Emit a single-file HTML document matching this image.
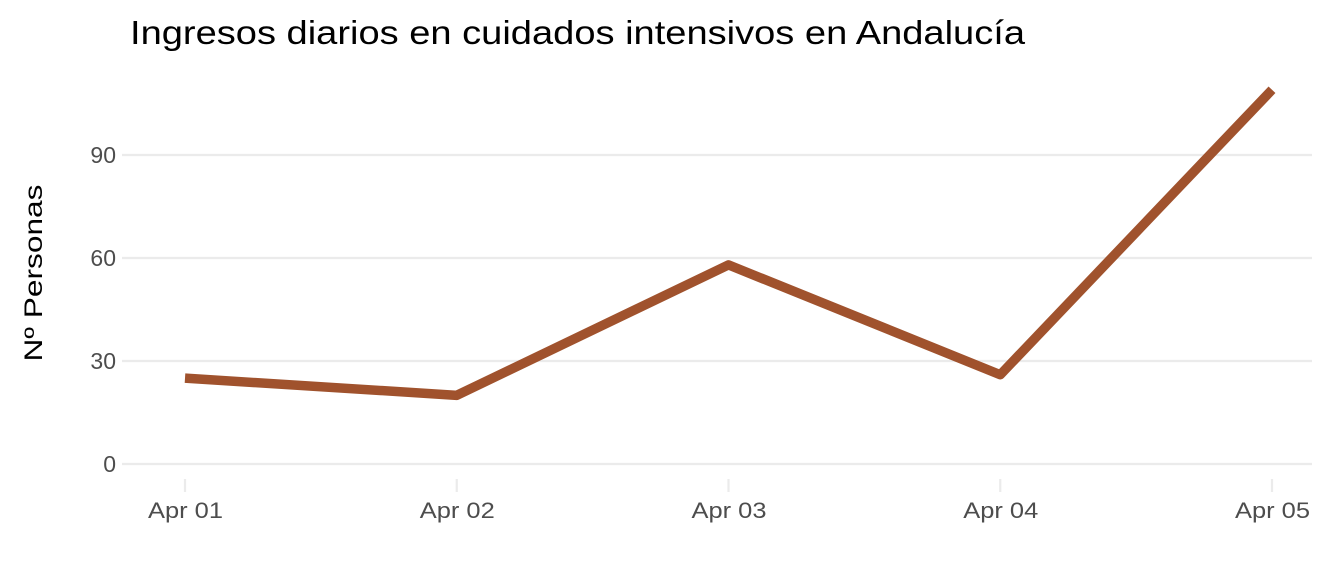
<!DOCTYPE html>
<html><head><meta charset="utf-8"><style>
body{margin:0;background:#fff;}
svg{display:block;font-family:"Liberation Sans",Arial,sans-serif;}
</style></head><body>
<svg id="chart" width="1344" height="576" viewBox="0 0 1344 576">
<text x="130" y="44" font-size="33" textLength="895" lengthAdjust="spacingAndGlyphs" fill="#000">Ingresos diarios en cuidados intensivos en Andalucía</text>
<text transform="translate(42,273) rotate(-90)" text-anchor="middle" font-size="25" textLength="177" lengthAdjust="spacingAndGlyphs" fill="#000">Nº Personas</text>
<g id="grid"></g><g id="xaxis"></g><g id="series"></g>
</svg>
<script>
const categories=["Apr 01","Apr 02","Apr 03","Apr 04","Apr 05"];
const values=[25,20,58,26,109];
const yTicks=[0,30,60,90];
const ns="http://www.w3.org/2000/svg";
const x=i=>185+i*(1272-185)/(categories.length-1);
const y=v=>464-v*(464-155)/90;
function mk(t,a,p){const e=document.createElementNS(ns,t);for(const k in a)e.setAttribute(k,a[k]);p.appendChild(e);return e;}
const grid=document.getElementById('grid'),xa=document.getElementById('xaxis'),se=document.getElementById('series');
yTicks.forEach(v=>{
 const l=mk('line',{x1:122,x2:1312,y1:y(v),y2:y(v),stroke:'#ebebeb','stroke-width':2.2},grid);
 
 
 const t=mk('text',{x:116,y:y(v)+8,'text-anchor':'end','font-size':23,fill:'#4d4d4d'},grid);
 t.textContent=v;
 
 
});
categories.forEach((c,i)=>{
 const l=mk('line',{x1:x(i),x2:x(i),y1:479,y2:492,stroke:'#ebebeb','stroke-width':2.2},xa);
 
 
 const t=mk('text',{x:x(i)-37,y:518,'font-size':22,textLength:75,lengthAdjust:'spacingAndGlyphs',fill:'#4d4d4d'},xa);
 t.textContent=c;
 
 
});
const p=mk('polyline',{points:values.map((v,i)=>x(i)+','+y(v)).join(' '),fill:'none',stroke:'#a0522d','stroke-width':9.5,'stroke-linejoin':'round'},se);


</script>
</body></html>
